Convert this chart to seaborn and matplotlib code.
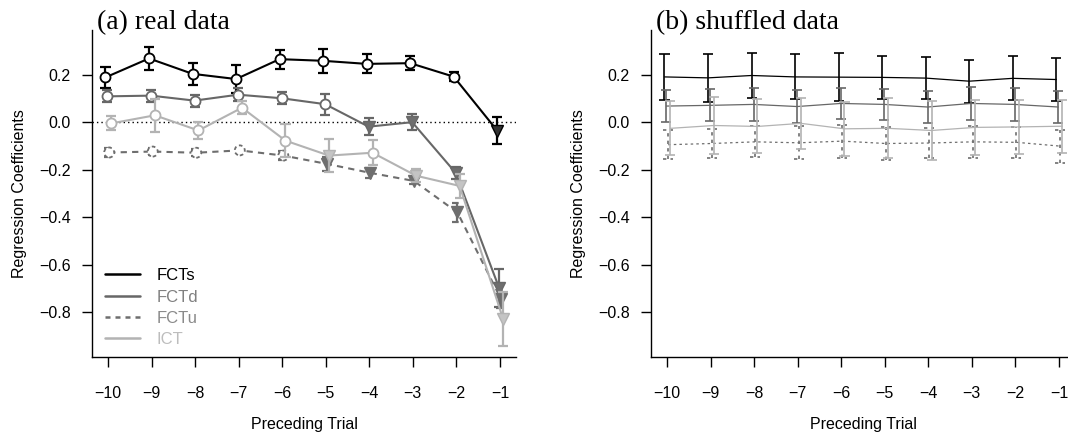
import matplotlib
matplotlib.use("Agg")
import matplotlib.pyplot as plt
from matplotlib.lines import Line2D
import pandas as pd
import seaborn as sns

# ---------------------------------------------------------------------------
# Data: regression coefficients (mean and standard error) per preceding trial
# ---------------------------------------------------------------------------
trials = [-10, -9, -8, -7, -6, -5, -4, -3, -2, -1]
series_names = ["FCTs", "FCTd", "FCTu", "ICT"]

# (a) real data
real_fcts = [0.19, 0.27, 0.205, 0.183, 0.267, 0.26, 0.247, 0.25, 0.193, -0.035]
real_fcts_se = [0.045, 0.05, 0.045, 0.06, 0.04, 0.05, 0.04, 0.03, 0.02, 0.057]
real_fctd = [0.11, 0.113, 0.092, 0.117, 0.102, 0.077, -0.018, 0.001, -0.213, -0.70]
real_fctd_se = [0.025, 0.025, 0.025, 0.027, 0.025, 0.045, 0.036, 0.033, 0.025, 0.08]
real_fctu = [-0.127, -0.123, -0.128, -0.118, -0.14, -0.175, -0.213, -0.247, -0.38, -0.745]
real_fctu_se = [0.018, 0.015, 0.015, 0.008, 0.018, 0.03, 0.02, 0.015, 0.04, 0.037]
real_ict = [-0.004, 0.03, -0.034, 0.062, -0.077, -0.14, -0.128, -0.225, -0.268, -0.83]
real_ict_se = [0.03, 0.07, 0.034, 0.028, 0.07, 0.07, 0.053, 0.027, 0.05, 0.115]

# significantly negative coefficients (drawn as filled triangles)
real_fcts_neg = [0, 0, 0, 0, 0, 0, 0, 0, 0, 1]
real_fctd_neg = [0, 0, 0, 0, 0, 0, 1, 1, 1, 1]
real_fctu_neg = [0, 0, 0, 0, 0, 1, 1, 1, 1, 1]
real_ict_neg = [0, 0, 0, 0, 0, 1, 0, 1, 1, 1]

# (b) shuffled data
shuf_fcts = [0.192, 0.188, 0.198, 0.192, 0.191, 0.19, 0.187, 0.174, 0.186, 0.181]
shuf_fcts_se = [0.098, 0.1, 0.094, 0.095, 0.1, 0.09, 0.088, 0.09, 0.093, 0.09]
shuf_fctd = [0.069, 0.072, 0.076, 0.067, 0.08, 0.076, 0.065, 0.08, 0.076, 0.065]
shuf_fctd_se = [0.067, 0.068, 0.069, 0.07, 0.067, 0.066, 0.067, 0.068, 0.068, 0.068]
shuf_fctu = [-0.094, -0.089, -0.082, -0.086, -0.079, -0.089, -0.087, -0.082, -0.084, -0.1]
shuf_fctu_se = [0.061, 0.062, 0.066, 0.069, 0.07, 0.069, 0.062, 0.067, 0.066, 0.07]
shuf_ict = [-0.025, -0.013, -0.017, -0.004, -0.027, -0.025, -0.034, -0.021, -0.019, -0.016]
shuf_ict_se = [0.114, 0.12, 0.114, 0.108, 0.114, 0.126, 0.124, 0.115, 0.114, 0.112]

y_ticks = [0.2, 0.0, -0.2, -0.4, -0.6, -0.8]

# ---------------------------------------------------------------------------
# Styling
# ---------------------------------------------------------------------------
sns.set_theme(style="ticks")
plt.rcParams["font.family"] = ["Liberation Sans", "DejaVu Sans"]
plt.rcParams["axes.unicode_minus"] = True
plt.rcParams["axes.labelcolor"] = "black"
plt.rcParams["text.color"] = "black"

colors = {"FCTs": "#000000", "FCTd": "#676767", "FCTu": "#6e6e6e", "ICT": "#b3b3b3"}
tri_fill = {"FCTs": "#333333", "FCTd": "#6e6e6e", "FCTu": "#6e6e6e", "ICT": "#c4c4c4"}
legend_text = {"FCTs": "#000000", "FCTd": "#808080", "FCTu": "#8a8a8a", "ICT": "#bdbdbd"}
offsets = {"FCTs": -0.06, "FCTd": -0.015, "FCTu": 0.025, "ICT": 0.075}

W, H = 1068, 434
fig = plt.figure(figsize=(W / 100, H / 100), dpi=100)

ax_l, ax_w = 92, 424
ax_top, ax_bot = 30, 357
ax_a = fig.add_axes([ax_l / W, (H - ax_bot) / H, ax_w / W, (ax_bot - ax_top) / H])
ax_b = fig.add_axes([651 / W, (H - ax_bot) / H, ax_w / W, (ax_bot - ax_top) / H])

cap_half = 0.115  # in trial units


def draw_series(ax, name, vals, ses, neg=None, lw=1.5, dashed=None, markers=True, bar_lw=1.6):
    xs = [t + offsets[name] for t in trials]
    df = pd.DataFrame({"trial": xs, "coef": vals})
    col = colors[name]
    ls = dashed if dashed is not None else "-"
    z = 2 + series_names.index(name) * 0.1
    sns.lineplot(data=df, x="trial", y="coef", ax=ax, color=col, lw=lw,
                 linestyle=ls, zorder=z, legend=False, estimator=None, sort=False)
    lo = [v - s for v, s in zip(vals, ses)]
    hi = [v + s for v, s in zip(vals, ses)]
    ax.vlines(xs, lo, hi, colors=col, lw=bar_lw, linestyles=ls, zorder=z)
    x0 = [x - cap_half for x in xs]
    x1 = [x + cap_half for x in xs]
    ax.hlines(lo, x0, x1, colors=col, lw=bar_lw, linestyles=ls, zorder=z)
    ax.hlines(hi, x0, x1, colors=col, lw=bar_lw, linestyles=ls, zorder=z)
    if markers:
        cx = [x for x, n in zip(xs, neg) if not n]
        cy = [v for v, n in zip(vals, neg) if not n]
        tx = [x for x, n in zip(xs, neg) if n]
        ty = [v for v, n in zip(vals, neg) if n]
        edge_ls = (0, (2.0, 1.6)) if dashed is not None else "-"
        ax.scatter(cx, cy, s=7.2 ** 2, marker="o", facecolors="white", edgecolors=col,
                   linewidths=1.3, linestyles=[edge_ls], zorder=z + 0.05)
        ax.plot(tx, ty, ls="none", marker="v", ms=8.5, mfc=tri_fill[name],
                mec=col, mew=1.0, zorder=z + 0.05)


# (a) real data
ax_a.axhline(0, color="black", lw=1.0, ls=(0, (1, 2.2)), zorder=1)
draw_series(ax_a, "FCTs", real_fcts, real_fcts_se, real_fcts_neg)
draw_series(ax_a, "FCTd", real_fctd, real_fctd_se, real_fctd_neg)
draw_series(ax_a, "FCTu", real_fctu, real_fctu_se, real_fctu_neg, dashed=(0, (3, 2.5)))
draw_series(ax_a, "ICT", real_ict, real_ict_se, real_ict_neg)

# (b) shuffled data
draw_series(ax_b, "FCTs", shuf_fcts, shuf_fcts_se, lw=0.9, markers=False, bar_lw=1.2)
draw_series(ax_b, "FCTd", shuf_fctd, shuf_fctd_se, lw=0.9, markers=False, bar_lw=1.2)
draw_series(ax_b, "FCTu", shuf_fctu, shuf_fctu_se, lw=0.9, dashed=(0, (2, 2.5)),
            markers=False, bar_lw=1.2)
draw_series(ax_b, "ICT", shuf_ict, shuf_ict_se, lw=0.9, markers=False, bar_lw=1.2)

for ax, title in [(ax_a, "(a) real data"), (ax_b, "(b) shuffled data")]:
    ax.set_xlim(-10.37, -0.63)
    ax.set_ylim(-0.99, 0.39)
    ax.set_xticks(trials)
    ax.set_xticklabels([f"\u2212{abs(t)}" for t in trials])
    ax.set_yticks(y_ticks)
    ax.set_yticklabels([f"{v:.1f}".replace("-", "\u2212") for v in y_ticks])
    ax.tick_params(axis="both", direction="out", length=7.2, width=1.0,
                   color="black", labelsize=11.5, labelcolor="black")
    ax.tick_params(axis="y", pad=8)
    ax.tick_params(axis="x", pad=14)
    for side in ["top", "right"]:
        ax.spines[side].set_visible(False)
    for side in ["left", "bottom"]:
        ax.spines[side].set_linewidth(1.0)
        ax.spines[side].set_color("black")
    ax.set_xlabel("Preceding Trial", fontsize=11.5, va="center", color="black")
    ax.xaxis.set_label_coords(0.5, -67 / 327)
    ax.set_ylabel("Regression Coefficients", fontsize=11.5, va="center", color="black")
    ax.yaxis.set_label_coords(-72 / 424, 0.5)
    ax.grid(False)
    ax.set_facecolor("white")
    ax.text(0.012, 1.004, title, transform=ax.transAxes, ha="left", va="baseline",
            fontsize=20, family="Liberation Serif", color="black")

# legend in panel (a)
handles = [
    Line2D([], [], color=colors["FCTs"], lw=1.8),
    Line2D([], [], color=colors["FCTd"], lw=1.8),
    Line2D([], [], color=colors["FCTu"], lw=1.8, ls=(0, (2, 2))),
    Line2D([], [], color=colors["ICT"], lw=1.8),
]
leg = ax_a.legend(handles, series_names, loc="lower left", bbox_to_anchor=(0.03, 0.03),
                  frameon=False, fontsize=12, handlelength=2.1, handletextpad=1.0,
                  labelspacing=0.38, borderpad=0.0, borderaxespad=0.0)
for txt, name in zip(leg.get_texts(), series_names):
    txt.set_color(legend_text[name])

fig.savefig("out.png", dpi=100, facecolor="white")
